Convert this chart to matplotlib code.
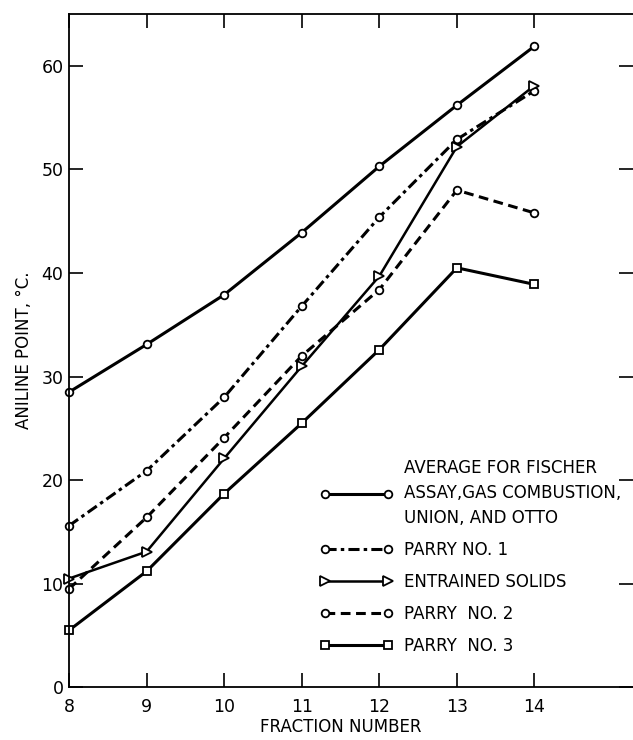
import matplotlib
matplotlib.use('Agg')
import matplotlib.pyplot as plt

plt.rcParams['font.family'] = ['DejaVu Sans']
plt.rcParams['lines.scale_dashes'] = False

# Datos
fraction = [8, 9, 10, 11, 12, 13, 14]
average = [28.5, 33.1, 37.9, 43.9, 50.3, 56.2, 61.9]
parry_1 = [15.6, 20.9, 28.0, 36.8, 45.4, 52.9, 57.6]
entrained = [10.5, 13.1, 22.1, 31.0, 39.7, 52.2, 58.1]
parry_2 = [9.5, 16.4, 24.1, 32.0, 38.4, 48.0, 45.8]
parry_3 = [5.5, 11.2, 18.7, 25.5, 32.6, 40.5, 38.9]

labels = ['AVERAGE FOR FISCHER\nASSAY,GAS COMBUSTION,\nUNION, AND OTTO',
          'PARRY NO. 1', 'ENTRAINED SOLIDS', 'PARRY  NO. 2', 'PARRY  NO. 3']
x_ticks = [8, 9, 10, 11, 12, 13, 14]
y_ticks = [0, 10, 20, 30, 40, 50, 60]

fig = plt.figure(figsize=(6.33, 7.40), dpi=100)
ax = fig.add_axes([0.109, 0.0712, 0.891, 0.9098])

mk = dict(color='black', markerfacecolor='white', markeredgecolor='black',
          markeredgewidth=1.3, clip_on=False)

ax.plot(fraction, average, '-', marker='o', markersize=5.5, linewidth=2.2,
        label=labels[0], **mk)
ax.plot(fraction, parry_1, marker='o', markersize=5.5, linewidth=2.2,
        dashes=(8, 3, 2.5, 3), label=labels[1], **mk)
ax.plot(fraction, entrained, '-', marker='>', markersize=6.5, linewidth=1.8,
        label=labels[2], **mk)
ax.plot(fraction, parry_2, marker='o', markersize=5.5, linewidth=2.2,
        dashes=(7, 4), label=labels[3], **mk)
ax.plot(fraction, parry_3, '-', marker='s', markersize=5.5, linewidth=2.2,
        label=labels[4], **mk)

ax.set_xlim(8, 15.27)
ax.set_ylim(0, 65)
ax.set_xticks(x_ticks)
ax.set_yticks(y_ticks)
ax.set_xticklabels([str(v) for v in x_ticks], fontsize=12.5)
ax.set_yticklabels([str(v) for v in y_ticks], fontsize=12.5)

ax.tick_params(axis='both', direction='in', length=10, width=1.2,
               top=True, right=True, colors='black')
ax.tick_params(axis='x', pad=8)
ax.tick_params(axis='y', pad=4)
ax.spines['right'].set_visible(False)
for s in ['left', 'top', 'bottom']:
    ax.spines[s].set_linewidth(1.3)

ax.set_ylabel('ANILINE POINT, °C.', fontsize=12, labelpad=6)
ax.set_xlabel('FRACTION NUMBER', fontsize=12)
ax.xaxis.set_label_coords(0.482, -0.046)

leg = ax.legend(loc='upper left', bbox_to_anchor=(320 / 633, 1 - 459 / 740),
                bbox_transform=fig.transFigure, frameon=False, fontsize=12,
                numpoints=2, handlelength=4.4, handletextpad=0.65,
                labelspacing=0.84, borderpad=0, borderaxespad=0)
for t in leg.get_texts():
    t.set_linespacing(1.5)

fig.savefig('out.png', dpi=100)
